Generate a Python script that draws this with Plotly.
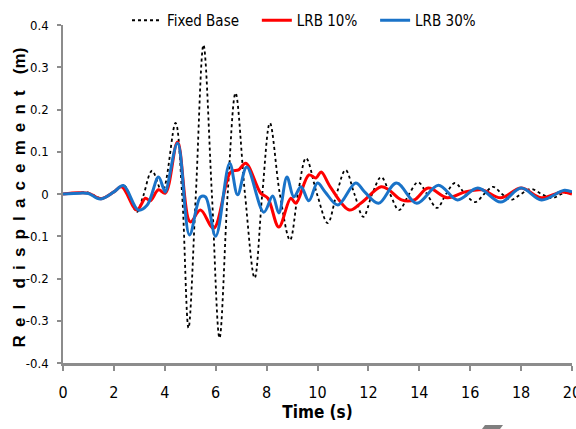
import plotly.graph_objects as go

# Fixed Base (black dotted)
t_fixed = [0, 0.5, 1.0, 1.5, 2.0, 2.4, 2.9, 3.15, 3.5, 3.9, 4.42, 4.68, 4.93, 5.22, 5.52, 5.85,
           6.15, 6.47, 6.78, 7.15, 7.53, 7.83, 8.13, 8.52, 8.92, 9.23, 9.55, 9.98, 10.4, 10.75,
           11.1, 11.45, 11.8, 12.15, 12.5, 12.85, 13.2, 13.6, 13.95, 14.3, 14.7, 15.05, 15.4,
           15.8, 16.2, 16.55, 16.9, 17.25, 17.6, 18.0, 18.4, 18.8, 19.2, 19.6, 20.0]
y_fixed = [0, 0.002, 0.003, -0.01, 0.005, 0.02, -0.043, -0.005, 0.055, 0.005, 0.168, 0.0, -0.317,
           0.0, 0.353, 0.0, -0.341, 0.0, 0.239, 0.0, -0.199, 0.0, 0.168, 0.0, -0.109, 0.0, 0.085,
           0.0, -0.069, 0.0, 0.057, 0.0, -0.054, 0.0, 0.04, 0.0, -0.038, 0.0, 0.028, 0.0, -0.033,
           0.0, 0.026, 0.0, -0.019, 0.0, 0.017, 0.0, -0.014, 0.0, 0.012, 0.0, -0.01, 0.0, 0.005]

# LRB 10% (red)
t_lrb10 = [0, 0.6, 1.0, 1.5, 2.0, 2.3, 2.9, 3.24, 3.43, 3.75, 4.02, 4.5, 5.0, 5.4, 5.92, 6.59,
           6.9, 7.18, 7.77, 8.05, 8.48, 8.95, 9.15, 9.66, 9.94, 10.14, 10.5, 11.25, 11.7, 12.5,
           12.8, 13.3, 13.8, 14.35, 15.1, 15.8, 16.45, 17.2, 18.0, 18.8, 19.6, 20.0]
y_lrb10 = [0, 0.003, 0.002, -0.011, 0.005, 0.017, -0.038, -0.01, -0.016, 0.01, 0.002, 0.123,
           -0.066, -0.038, -0.081, 0.052, 0.057, 0.073, 0.002, -0.01, -0.078, -0.01, -0.022,
           0.045, 0.038, 0.052, 0.017, -0.038, -0.022, 0.017, 0.01, -0.014, -0.014, 0.014,
           -0.009, 0.005, 0.01, -0.009, 0.014, -0.009, 0.005, 0.0]

# LRB 30% (blue)
t_lrb30 = [0, 0.67, 1.0, 1.46, 2.0, 2.37, 2.96, 3.31, 3.75, 3.94, 4.02, 4.5, 4.97, 5.4, 5.6, 6.0,
           6.55, 6.86, 7.22, 7.89, 8.24, 8.48, 8.8, 9.07, 9.35, 9.66, 10.0, 10.3, 10.8, 11.5,
           11.85, 12.4, 13.1, 13.9, 14.75, 15.5, 16.3, 17.2, 18.0, 18.8, 19.7, 20.0]
y_lrb30 = [0, 0.002, 0.001, -0.012, 0.005, 0.02, -0.038, -0.026, 0.04, 0.014, 0.005, 0.12,
           -0.097, -0.007, -0.007, -0.1, 0.073, -0.002, 0.064, -0.043, -0.005, -0.045, 0.04,
           -0.007, 0.017, -0.016, 0.026, 0.005, -0.026, 0.026, 0.005, -0.022, 0.026, -0.022,
           0.021, -0.014, 0.014, -0.019, 0.014, -0.014, 0.009, 0.005]

x_ticks = [0, 2, 4, 6, 8, 10, 12, 14, 16, 18, 20]
y_ticks = [-0.4, -0.3, -0.2, -0.1, 0, 0.1, 0.2, 0.3, 0.4]
y_ticktext = ["-0.4", "-0.3", "-0.2", "-0.1", "0", "0.1", "0.2", "0.3", "0.4"]

narrow = "DejaVu Sans Condensed, Liberation Sans Narrow, Arial Narrow, sans-serif"
pad = "\u00a0\u00a0\u00a0"

# spaced-out y title
sep = "\u00a0\u2009"
y_title = sep.join("Rel") + sep * 2 + sep.join("displacement") + sep * 2 + "(m)"

fig = go.Figure()
fig.add_trace(go.Scatter(x=t_fixed, y=y_fixed, mode="lines", name="Fixed Base" + pad,
                         line=dict(color="black", width=1.8, dash="dot", shape="spline", smoothing=1.0)))
fig.add_trace(go.Scatter(x=t_lrb10, y=y_lrb10, mode="lines", name="LRB 10%" + pad,
                         line=dict(color="#ff0000", width=3, shape="spline", smoothing=1.0)))
fig.add_trace(go.Scatter(x=t_lrb30, y=y_lrb30, mode="lines", name="LRB 30%",
                         line=dict(color="#1a73c8", width=3, shape="spline", smoothing=1.0)))

fig.add_annotation(text="<b>" + y_title + "</b>", textangle=-90, xref="paper", yref="paper",
                   x=(19 - 63) / 509, y=0.49, xanchor="center", yanchor="middle", showarrow=False,
                   font=dict(family="Liberation Sans, Arial, sans-serif", size=17, color="black"))

# small grey artifact at the bottom edge of the reference image
fig.add_shape(type="path", xref="paper", yref="paper",
              path="M {:.4f} {:.4f} L {:.4f} {:.4f} L {:.4f} {:.4f} L {:.4f} {:.4f} Z".format(
                  (482 - 63) / 509, -66 / 338, (500 - 63) / 509, -66 / 338,
                  (503 - 63) / 509, -62 / 338, (485 - 63) / 509, -62 / 338),
              fillcolor="#7f7f7f", line=dict(width=0), layer="above")

fig.update_layout(
    width=576, height=429,
    margin=dict(l=63, r=4, t=25, b=66, autoexpand=False),
    paper_bgcolor="white", plot_bgcolor="white",
    showlegend=True,
    legend=dict(orientation="h", xref="container", yref="container", x=127 / 576, y=1 - 4 / 429,
                xanchor="left", yanchor="top", font=dict(family=narrow, size=15, color="black"),
                itemwidth=30, tracegroupgap=0, bgcolor="rgba(0,0,0,0)"),
    xaxis=dict(range=[0, 20], tickvals=x_ticks, ticktext=[str(v) for v in x_ticks],
               showgrid=False, zeroline=False, showline=True, linecolor="#8c8c8c", linewidth=3,
               ticks="outside", ticklen=5, tickcolor="#8c8c8c", tickwidth=1.5,
               ticklabelstandoff=8, ticklabeloverflow="allow",
               tickfont=dict(family=narrow, size=16, color="black"),
               title=dict(text="<b>Time (s)</b>", font=dict(family=narrow, size=17, color="black"),
                          standoff=3)),
    yaxis=dict(range=[-0.4, 0.4], tickvals=y_ticks, ticktext=y_ticktext,
               showgrid=False, zeroline=False, showline=True, linecolor="#8c8c8c", linewidth=1.5,
               ticks="outside", ticklen=4, tickcolor="#8c8c8c", tickwidth=1.5,
               ticklabelstandoff=6, ticklabeloverflow="allow",
               tickfont=dict(family=narrow, size=13, color="black")),
)

fig.write_html("out.html", config={"displayModeBar": False},
               post_script="document.body.style.margin='0';document.body.style.padding='0';")
